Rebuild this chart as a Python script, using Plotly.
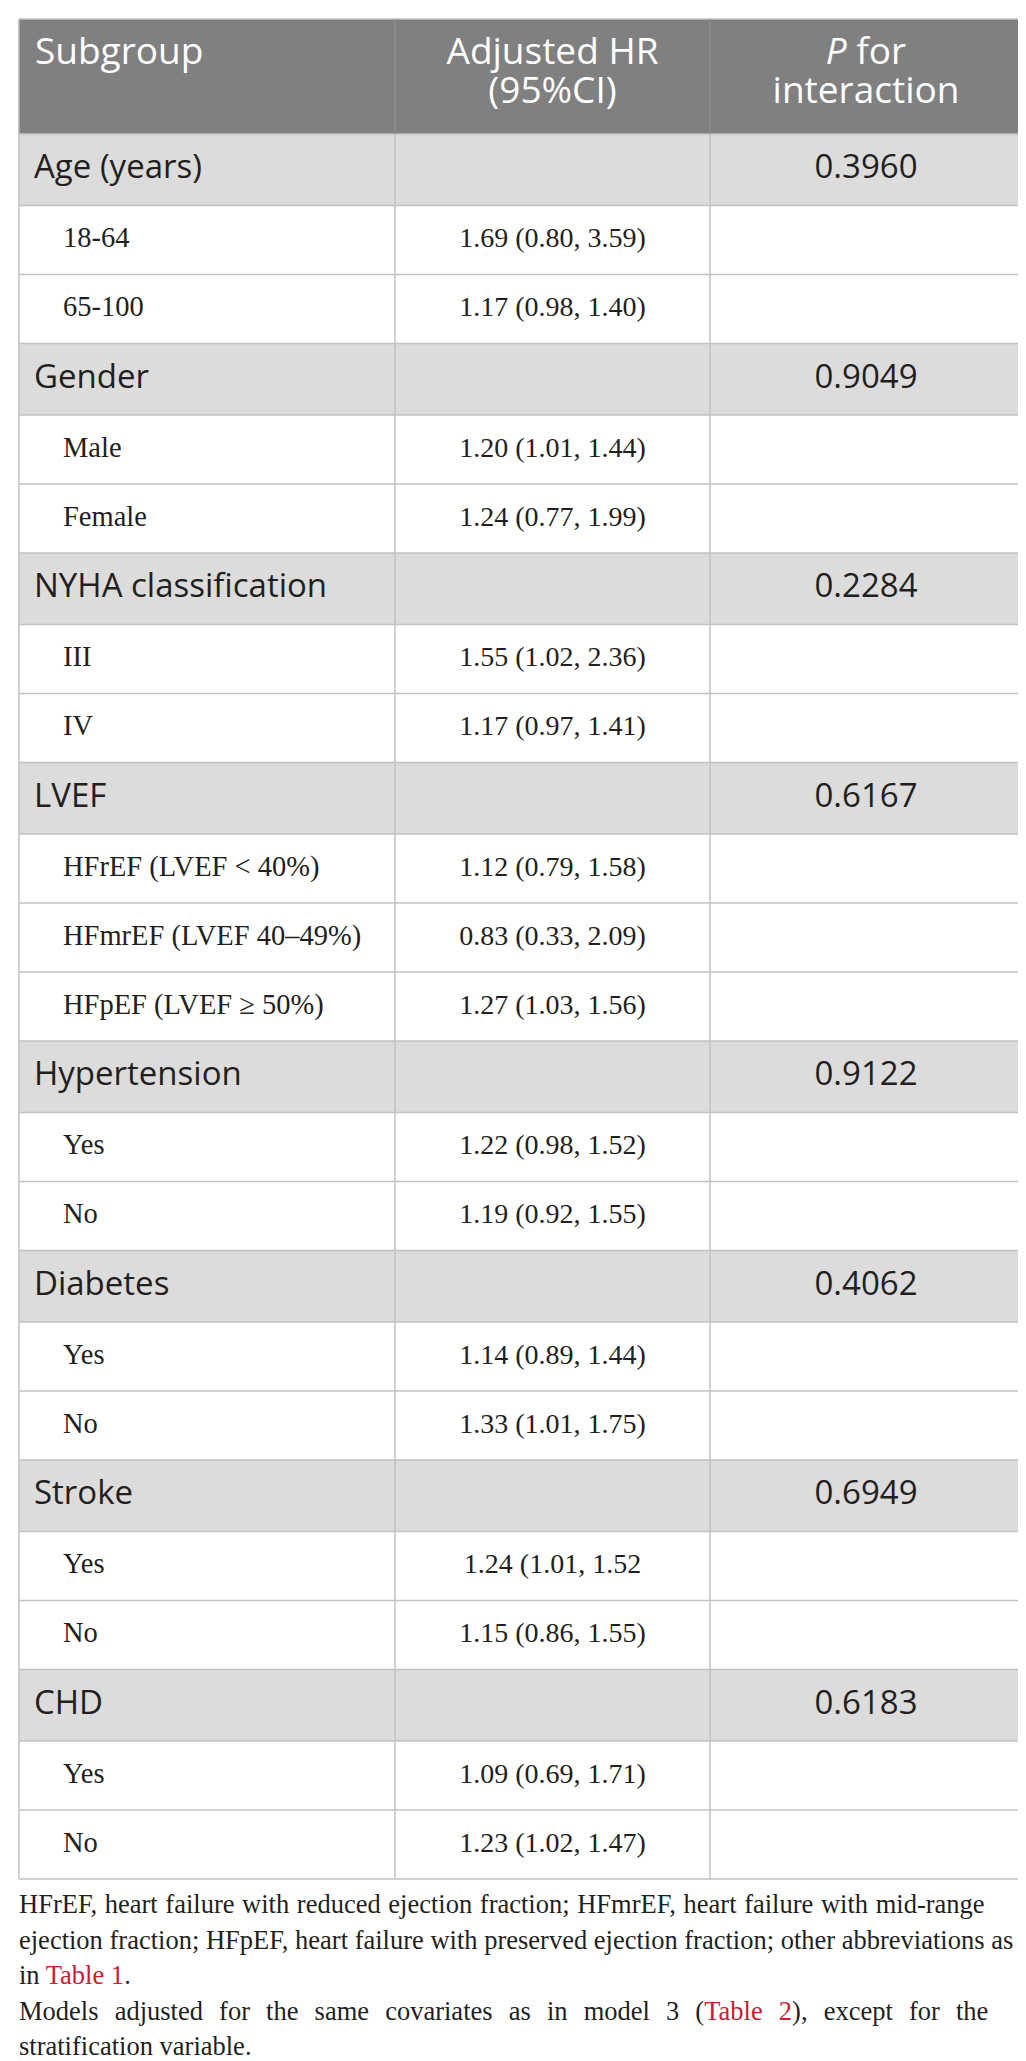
import plotly.graph_objects as go

# 표 데이터
groups = ["Age (years)", "Gender", "NYHA classification", "LVEF",
          "Hypertension", "Diabetes", "Stroke", "CHD"]
p_interaction = ["0.3960", "0.9049", "0.2284", "0.6167",
                 "0.9122", "0.4062", "0.6949", "0.6183"]
sub_labels = [
    ["18-64", "65-100"],
    ["Male", "Female"],
    ["III", "IV"],
    ["HFrEF (LVEF < 40%)", "HFmrEF (LVEF 40–49%)", "HFpEF (LVEF ≥ 50%)"],
    ["Yes", "No"],
    ["Yes", "No"],
    ["Yes", "No"],
    ["Yes", "No"],
]
adjusted_hr = [
    ["1.69 (0.80, 3.59)", "1.17 (0.98, 1.40)"],
    ["1.20 (1.01, 1.44)", "1.24 (0.77, 1.99)"],
    ["1.55 (1.02, 2.36)", "1.17 (0.97, 1.41)"],
    ["1.12 (0.79, 1.58)", "0.83 (0.33, 2.09)", "1.27 (1.03, 1.56)"],
    ["1.22 (0.98, 1.52)", "1.19 (0.92, 1.55)"],
    ["1.14 (0.89, 1.44)", "1.33 (1.01, 1.75)"],
    ["1.24 (1.01, 1.52", "1.15 (0.86, 1.55)"],
    ["1.09 (0.69, 1.71)", "1.23 (1.02, 1.47)"],
]
header_col1 = ["Subgroup"]
header_col2 = ["Adjusted HR", "(95%CI)"]
header_col3 = ["<i>P</i> for", "interaction"]
footnote_lines = [
    "HFrEF, heart failure with reduced ejection fraction; HFmrEF, heart failure with mid-range",
    "ejection fraction; HFpEF, heart failure with preserved ejection fraction; other abbreviations as",
    "in <span style='color:#c8202f'>Table 1</span>.",
    "Models adjusted for the same covariates as in model 3 (<span style='color:#c8202f'>Table 2</span>), except for the",
    "stratification variable.",
]

# 레이아웃 상수 (픽셀)
W, H = 1026, 2061
x_left, x_c1, x_c2, x_right = 11, 387, 702, 1014
y_top, header_h = 11, 115
group_h, sub_h = 71.5, 69

SANS = "Open Sans"
SERIF = "Liberation Serif"
INK = "#231f20"

# 행 위치 계산
rows = []
y = y_top + header_h
for g, p, subs, hrs in zip(groups, p_interaction, sub_labels, adjusted_hr):
    rows.append(dict(kind="group", top=y, bottom=y + group_h, label=g, hr="", p=p))
    y += group_h
    for s, hr in zip(subs, hrs):
        rows.append(dict(kind="sub", top=y, bottom=y + sub_h, label=s, hr=hr, p=""))
        y += sub_h
y_bottom = y

shapes = []
# 헤더 배경
shapes.append(dict(type="rect", x0=x_left, x1=x_right, y0=y_top, y1=y_top + header_h,
                   fillcolor="#808080", line_width=0, layer="below"))
# 그룹 행 배경
for r in rows:
    if r["kind"] == "group":
        shapes.append(dict(type="rect", x0=x_left, x1=x_right, y0=r["top"], y1=r["bottom"],
                           fillcolor="#dcdcdc", line_width=0, layer="below"))
# 가로선
for yy in [y_top, y_top + header_h] + [r["bottom"] for r in rows]:
    shapes.append(dict(type="line", x0=x_left, x1=x_right, y0=yy, y1=yy,
                       line=dict(color="#c2c2c2", width=1.5)))
# 세로선
for xx in [x_left, x_c1, x_c2, x_right]:
    shapes.append(dict(type="line", x0=xx, x1=xx, y0=y_top + header_h, y1=y_bottom,
                       line=dict(color="#c2c2c2", width=1.5)))
    inner = xx in (x_c1, x_c2)
    shapes.append(dict(type="line", x0=xx, x1=xx, y0=y_top, y1=y_top + header_h,
                       line=dict(color="#8f8f8f" if inner else "#b5b5b5", width=1.5)))

fig = go.Figure()

# 헤더 텍스트
line1_y, line2_y = y_top + 36, y_top + 75
fig.add_trace(go.Scatter(
    x=[27], y=[line1_y], text=header_col1, mode="text", textposition="middle right",
    textfont=dict(family=SANS, size=37, color="white"), hoverinfo="skip", cliponaxis=False))
fig.add_trace(go.Scatter(
    x=[(x_c1 + x_c2) / 2] * 2 + [(x_c2 + x_right) / 2] * 2,
    y=[line1_y, line2_y, line1_y, line2_y],
    text=header_col2 + header_col3, mode="text", textposition="middle center",
    textfont=dict(family=SANS, size=37, color="white"), hoverinfo="skip", cliponaxis=False))

group_rows = [r for r in rows if r["kind"] == "group"]
sub_rows = [r for r in rows if r["kind"] == "sub"]

# 그룹 이름
fig.add_trace(go.Scatter(
    x=[26] * len(group_rows), y=[(r["top"] + r["bottom"]) / 2 for r in group_rows],
    text=[r["label"] for r in group_rows], mode="text", textposition="middle right",
    textfont=dict(family=SANS, size=33, color=INK), hoverinfo="skip", cliponaxis=False))
# P for interaction
fig.add_trace(go.Scatter(
    x=[(x_c2 + x_right) / 2] * len(group_rows), y=[(r["top"] + r["bottom"]) / 2 for r in group_rows],
    text=[r["p"] for r in group_rows], mode="text", textposition="middle center",
    textfont=dict(family=SANS, size=33, color=INK), hoverinfo="skip", cliponaxis=False))
# 하위 그룹
fig.add_trace(go.Scatter(
    x=[55] * len(sub_rows), y=[(r["top"] + r["bottom"]) / 2 for r in sub_rows],
    text=[r["label"].replace("<", "&lt;") for r in sub_rows], mode="text", textposition="middle right",
    textfont=dict(family=SERIF, size=28.5, color=INK), hoverinfo="skip", cliponaxis=False))
# Adjusted HR
fig.add_trace(go.Scatter(
    x=[(x_c1 + x_c2) / 2] * len(sub_rows), y=[(r["top"] + r["bottom"]) / 2 for r in sub_rows],
    text=[r["hr"] for r in sub_rows], mode="text", textposition="middle center",
    textfont=dict(family=SERIF, size=28, color=INK), hoverinfo="skip", cliponaxis=False))

# 각주 (양쪽 정렬 흉내: 단어 간격)
word_spacing = [1, 0, 0, 9.5, 0]
annotations = []
for i, (line, ws) in enumerate(zip(footnote_lines, word_spacing)):
    txt = line if ws == 0 else "<span style='word-spacing:%.1fpx'>%s</span>" % (ws, line)
    annotations.append(dict(x=x_left - 2, y=y_bottom + 42 + i * 35.5, xref="x", yref="y",
                            text=txt, showarrow=False, xanchor="left", yanchor="bottom",
                            font=dict(family=SERIF, size=26.5, color=INK)))

fig.update_layout(
    width=W, height=H, margin=dict(l=0, r=0, t=0, b=0),
    paper_bgcolor="white", plot_bgcolor="white", showlegend=False,
    shapes=shapes, annotations=annotations,
    xaxis=dict(range=[0, W], visible=False, fixedrange=True),
    yaxis=dict(range=[H, 0], visible=False, fixedrange=True),
)

fig.write_html("out.html")
